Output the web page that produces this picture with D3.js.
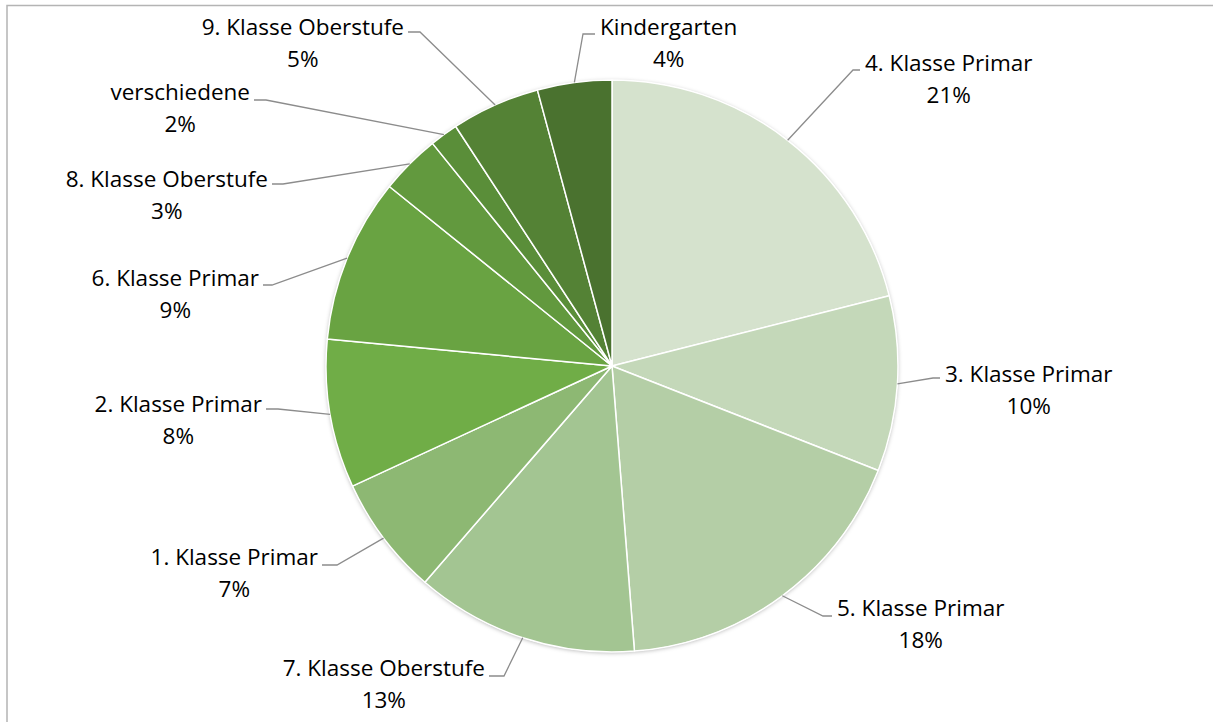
<!DOCTYPE html>
<html>
<head>
    <meta charset="utf-8">
    <script src="https://cdn.jsdelivr.net/npm/d3@7"></script>
    <style>
    body { margin: 0; background: #fff; }
    .lbl { font-family: "Open Sans", Lato, sans-serif; font-size: 22.5px; fill: #000; }
    .leader { fill: none; stroke: #8c8c8c; stroke-width: 1.3px; }
    </style>
</head>
<body>
<script>
// slices in drawing order, clockwise from 12 o'clock
var categories = ["4. Klasse Primar", "3. Klasse Primar", "5. Klasse Primar", "7. Klasse Oberstufe",
    "1. Klasse Primar", "2. Klasse Primar", "6. Klasse Primar", "8. Klasse Oberstufe",
    "verschiedene", "9. Klasse Oberstufe", "Kindergarten"];
var shares = [21.05, 9.9, 17.8, 12.6, 6.75, 8.4, 9.3, 3.4, 1.6, 5.0, 4.2];
var colours = ["#d5e2cd", "#c4d8b9", "#b4cea6", "#a3c592", "#8db873", "#70ad47",
    "#69a342", "#62993e", "#5a8e39", "#548235", "#4a722f"];

// label placement: first baseline y, leader elbow (ex, ey), leader end hx;
// the text starts (right side) or ends (left side) just past hx
var labelLayout = [
    {y: 71, ex: 853, ey: 70, hx: 860, side: 1},
    {y: 382, ex: 933, ey: 378, hx: 940, side: 1},
    {y: 616, ex: 823, ey: 616, hx: 832, side: 1},
    {y: 676, ex: 504, ey: 676, hx: 489, side: -1},
    {y: 565, ex: 337, ey: 565, hx: 322, side: -1},
    {y: 412, ex: 278, ey: 409, hx: 266, side: -1},
    {y: 286, ex: 272, ey: 285, hx: 263, side: -1},
    {y: 187, ex: 283, ey: 184, hx: 272, side: -1},
    {y: 100, ex: 266, ey: 100, hx: 254, side: -1},
    {y: 35, ex: 420, ey: 32, hx: 408, side: -1},
    {y: 35, ex: 583, ey: 34, hx: 595, side: 1}
];

var width = 1213, height = 722;
var cx = 612, cy = 366, radius = 286;

var svg = d3.select("body").append("svg")
    .attr("width", width)
    .attr("height", height);

// chart area border
svg.append("rect")
    .attr("x", 7).attr("y", 5.5)
    .attr("width", 1400).attr("height", 900)
    .attr("fill", "none")
    .attr("stroke", "#b4b4b4")
    .attr("stroke-width", 1.5);

var defs = svg.append("defs");
defs.append("filter").attr("id", "glow")
    .attr("x", "-10%").attr("y", "-10%").attr("width", "120%").attr("height", "120%")
    .append("feDropShadow")
    .attr("dx", 0).attr("dy", 1).attr("stdDeviation", 2)
    .attr("flood-color", "#000").attr("flood-opacity", 0.3);

var g = svg.append("g").attr("transform", "translate(" + cx + "," + cy + ")");

var pie = d3.pie().sort(null).value(function(d) { return d; });
var arcs = pie(shares);

var arc = d3.arc().innerRadius(0).outerRadius(radius);
var edge = d3.arc().innerRadius(radius).outerRadius(radius);

// soft shadow under the pie
g.append("circle").attr("r", radius).attr("fill", "#fff").attr("filter", "url(#glow)");

g.selectAll("path.slice")
    .data(arcs)
    .enter().append("path")
    .attr("class", "slice")
    .attr("d", arc)
    .attr("fill", function(d, i) { return colours[i]; })
    .attr("stroke", "#fff")
    .attr("stroke-width", 1.5)
    .attr("stroke-linejoin", "round");

// leader lines
svg.selectAll("polyline.leader")
    .data(arcs)
    .enter().append("polyline")
    .attr("class", "leader")
    .attr("points", function(d, i) {
        var p = edge.centroid(d), L = labelLayout[i];
        return [[cx + p[0], cy + p[1]], [L.ex, L.ey], [L.hx, L.ey]].join(" ");
    });

// labels: name line sits against the leader, percent line centred under it
svg.selectAll("g.lbl")
    .data(arcs)
    .enter().append("g")
    .each(function(d, i) {
        var L = labelLayout[i];
        var grp = d3.select(this);
        var name = grp.append("text").attr("class", "lbl")
            .attr("y", L.y)
            .text(categories[i]);
        var w = name.node().getComputedTextLength();
        var left = L.side > 0 ? L.hx + 5 : L.hx - 4 - w;
        name.attr("x", left);
        grp.append("text").attr("class", "lbl")
            .attr("text-anchor", "middle")
            .attr("x", left + w / 2)
            .attr("y", L.y + 32)
            .text(Math.round(shares[i]) + "%");
    });
</script>
</body>
</html>
